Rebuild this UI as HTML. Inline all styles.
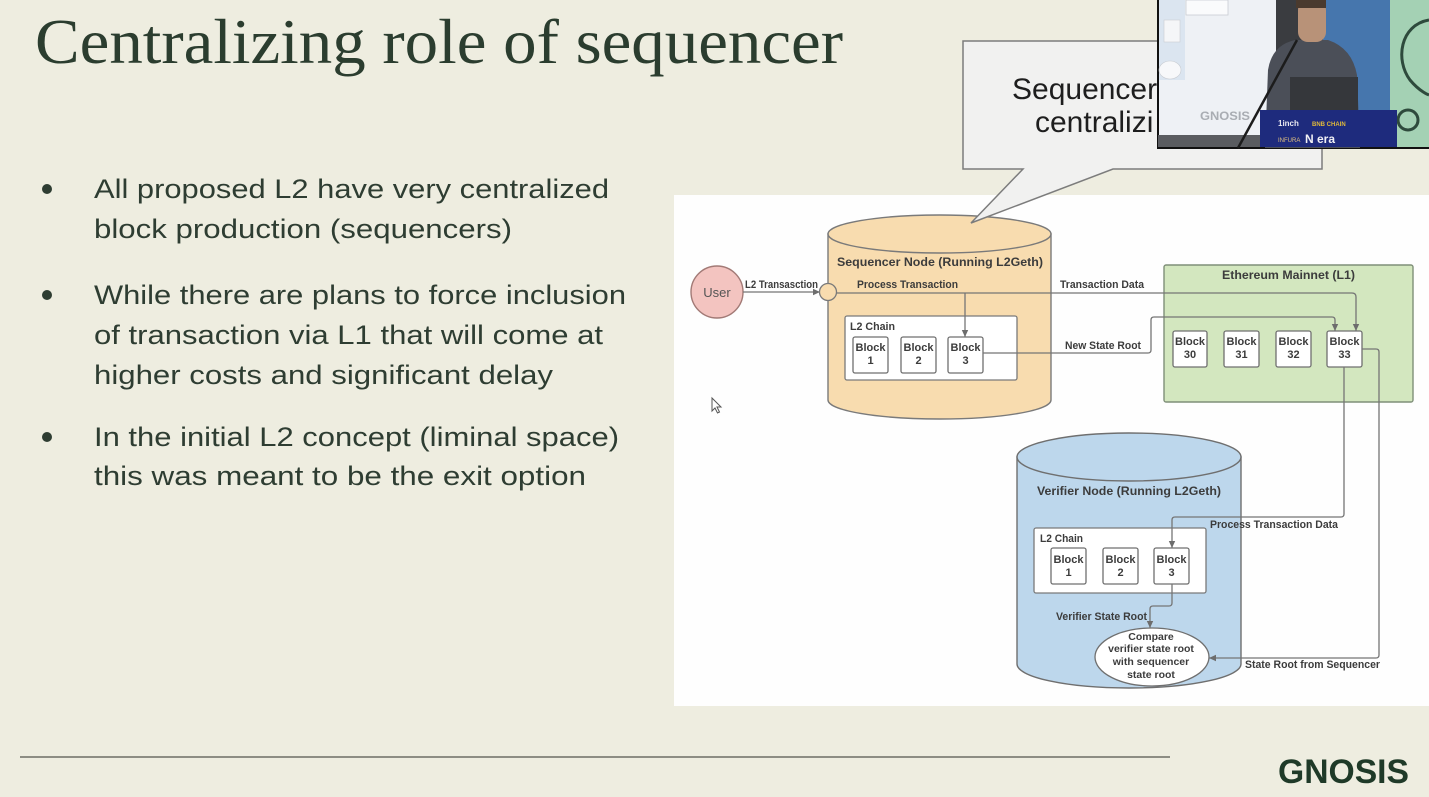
<!DOCTYPE html>
<html><head><meta charset="utf-8"><style>
html,body{margin:0;padding:0;background:#eeede0;}
svg{display:block;}
</style></head><body>
<svg width="1429" height="797" viewBox="0 0 1429 797" xmlns="http://www.w3.org/2000/svg">
<defs>
<marker id="ah" markerWidth="8" markerHeight="8" refX="7" refY="4" orient="auto" markerUnits="userSpaceOnUse">
<path d="M0,0.8 L7,4 L0,7.2 Z" fill="#6d6d6d"/>
</marker>
</defs>
<rect x="0" y="0" width="1429" height="797" fill="#eeede0"/>

<!-- Title -->
<text x="35" y="63" font-family="Liberation Serif, serif" font-size="63" fill="#2b3d2f" textLength="808" lengthAdjust="spacingAndGlyphs">Centralizing role of sequencer</text>

<!-- Bullets -->
<g font-family="Liberation Sans, sans-serif" font-size="27" fill="#2e3d32">
<circle cx="47" cy="189" r="5" fill="#2e3d32"/>
<circle cx="47" cy="295" r="5" fill="#2e3d32"/>
<circle cx="47" cy="437" r="5" fill="#2e3d32"/>
<text x="94" y="198" textLength="515" lengthAdjust="spacingAndGlyphs">All proposed L2 have very centralized</text>
<text x="94" y="238" textLength="418" lengthAdjust="spacingAndGlyphs">block production (sequencers)</text>
<text x="94" y="304" textLength="532" lengthAdjust="spacingAndGlyphs">While there are plans to force inclusion</text>
<text x="94" y="344" textLength="509" lengthAdjust="spacingAndGlyphs">of transaction via L1 that will come at</text>
<text x="94" y="384" textLength="459" lengthAdjust="spacingAndGlyphs">higher costs and significant delay</text>
<text x="94" y="446" textLength="525" lengthAdjust="spacingAndGlyphs">In the initial L2 concept (liminal space)</text>
<text x="94" y="485" textLength="492" lengthAdjust="spacingAndGlyphs">this was meant to be the exit option</text>
</g>

<!-- Diagram panel -->
<rect x="674" y="195" width="755" height="511" fill="#fefefe"/>

<!-- Sequencer cylinder -->
<path d="M828,234 L828,400 A111.5,19 0 0 0 1051,400 L1051,234 Z" fill="#f8dcaf" stroke="#7a7a7a" stroke-width="1.4"/>
<ellipse cx="939.5" cy="234" rx="111.5" ry="19" fill="#f8dcaf" stroke="#7a7a7a" stroke-width="1.4"/>

<!-- Ethereum mainnet -->
<rect x="1164" y="265" width="249" height="137" rx="2" fill="#d3e7bf" stroke="#7f8f78" stroke-width="1.4"/>

<!-- Verifier cylinder -->
<path d="M1017,457 L1017,664 A112,24 0 0 0 1241,664 L1241,457 Z" fill="#bdd7ec" stroke="#6f6f6f" stroke-width="1.4"/>
<ellipse cx="1129" cy="457" rx="112" ry="24" fill="#bdd7ec" stroke="#6f6f6f" stroke-width="1.4"/>

<!-- User -->
<circle cx="717" cy="292" r="26" fill="#f3c4c0" stroke="#a27a76" stroke-width="1.4"/>
<text x="717" y="297" text-anchor="middle" font-family="Liberation Sans, sans-serif" font-size="13" fill="#555">User</text>

<!-- L2 chain boxes -->
<rect x="845" y="316" width="172" height="64" rx="2" fill="#fff" stroke="#7a7a7a" stroke-width="1.3"/>
<rect x="1034" y="528" width="172" height="65" rx="2" fill="#fff" stroke="#7a7a7a" stroke-width="1.3"/>

<g fill="#fff" stroke="#6f6f6f" stroke-width="1.3">
<rect x="853" y="337" width="35" height="36" rx="2"/>
<rect x="901" y="337" width="35" height="36" rx="2"/>
<rect x="948" y="337" width="35" height="36" rx="2"/>
<rect x="1173" y="331" width="34" height="36" rx="2"/>
<rect x="1224" y="331" width="35" height="36" rx="2"/>
<rect x="1276" y="331" width="35" height="36" rx="2"/>
<rect x="1327" y="331" width="35" height="36" rx="2"/>
<rect x="1051" y="548" width="35" height="36" rx="2"/>
<rect x="1103" y="548" width="35" height="36" rx="2"/>
<rect x="1154" y="548" width="35" height="36" rx="2"/>
</g>

<!-- Compare ellipse -->
<ellipse cx="1152" cy="657" rx="57" ry="29" fill="#fff" stroke="#6f6f6f" stroke-width="1.3"/>

<!-- Connectors -->
<g fill="none" stroke="#757575" stroke-width="1.3">
<path d="M743,292 L820,292" marker-end="url(#ah)"/>
<path d="M836,293 L1352,293 Q1356,293 1356,297 L1356,331" marker-end="url(#ah)"/>
<path d="M965,293 L965,337" marker-end="url(#ah)"/>
<path d="M983,353 L1148,353 Q1151,353 1151,350 L1151,320 Q1151,317 1154,317 L1332,317 Q1335,317 1335,320 L1335,331" marker-end="url(#ah)"/>
<path d="M1344,367 L1344,514 Q1344,517 1341,517 L1175,517 Q1172,517 1172,520 L1172,548" marker-end="url(#ah)"/>
<path d="M1362,349 L1376,349 Q1379,349 1379,352 L1379,655 Q1379,658 1376,658 L1209,658" marker-end="url(#ah)"/>
<path d="M1172,584 L1172,603 Q1172,606 1169,606 L1153,606 Q1150,606 1150,609 L1150,628" marker-end="url(#ah)"/>
</g>
<circle cx="828" cy="292" r="8.5" fill="#f8dcaf" stroke="#7a7a7a" stroke-width="1.3"/>

<!-- Diagram labels -->
<g font-family="Liberation Sans, sans-serif" font-weight="bold" font-size="11" fill="#3c3c3c">
<text x="745" y="288" textLength="73" lengthAdjust="spacingAndGlyphs">L2 Transasction</text>
<text x="837" y="266" font-size="12" textLength="206" lengthAdjust="spacingAndGlyphs">Sequencer Node (Running L2Geth)</text>
<text x="857" y="288" textLength="101" lengthAdjust="spacingAndGlyphs">Process Transaction</text>
<text x="1060" y="288" textLength="84" lengthAdjust="spacingAndGlyphs">Transaction Data</text>
<text x="1065" y="349" textLength="76" lengthAdjust="spacingAndGlyphs">New State Root</text>
<text x="1222" y="279" font-size="12" textLength="133" lengthAdjust="spacingAndGlyphs">Ethereum Mainnet (L1)</text>
<text x="850" y="330" textLength="45" lengthAdjust="spacingAndGlyphs">L2 Chain</text>
<text x="1037" y="495" font-size="12" textLength="184" lengthAdjust="spacingAndGlyphs">Verifier Node (Running L2Geth)</text>
<text x="1210" y="528" textLength="128" lengthAdjust="spacingAndGlyphs">Process Transaction Data</text>
<text x="1040" y="542" textLength="43" lengthAdjust="spacingAndGlyphs">L2 Chain</text>
<text x="1056" y="620" textLength="91" lengthAdjust="spacingAndGlyphs">Verifier State Root</text>
<text x="1245" y="668" textLength="135" lengthAdjust="spacingAndGlyphs">State Root from Sequencer</text>
<g text-anchor="middle">
<text x="870.5" y="351">Block</text><text x="870.5" y="364">1</text>
<text x="918.5" y="351">Block</text><text x="918.5" y="364">2</text>
<text x="965.5" y="351">Block</text><text x="965.5" y="364">3</text>
<text x="1190" y="345">Block</text><text x="1190" y="358">30</text>
<text x="1241.5" y="345">Block</text><text x="1241.5" y="358">31</text>
<text x="1293.5" y="345">Block</text><text x="1293.5" y="358">32</text>
<text x="1344.5" y="345">Block</text><text x="1344.5" y="358">33</text>
<text x="1068.5" y="563">Block</text><text x="1068.5" y="576">1</text>
<text x="1120.5" y="563">Block</text><text x="1120.5" y="576">2</text>
<text x="1171.5" y="563">Block</text><text x="1171.5" y="576">3</text>
<text x="1151" y="640" font-size="10.5">Compare</text>
<text x="1151" y="652" font-size="10.5">verifier state root</text>
<text x="1151" y="665" font-size="10.5">with sequencer</text>
<text x="1151" y="678" font-size="10.5">state root</text>
</g>
</g>

<!-- Mouse cursor -->
<path d="M712,398 L712,411 L715,408 L717.5,413 L719.5,412 L717,407 L721,407 Z" fill="#fff" stroke="#555" stroke-width="1"/>

<!-- Callout bubble (drawn over the diagram) -->
<path d="M963,41 L1322,41 L1322,169 L1113,169 L971,223 L1023,169 L963,169 Z" fill="#f1f1f0" stroke="#7c7c7c" stroke-width="1.5"/>
<text x="1012" y="99" font-family="Liberation Sans, sans-serif" font-size="30" fill="#1e1e1e">Sequencer</text>
<text x="1035" y="132" font-family="Liberation Sans, sans-serif" font-size="30" fill="#1e1e1e">centralizi</text>

<!-- Bottom rule -->
<line x1="20" y1="757" x2="1170" y2="757" stroke="#8d8d84" stroke-width="2"/>

<!-- Gnosis logo -->
<text x="1278" y="783" font-family="Liberation Sans, sans-serif" font-weight="bold" font-size="34" fill="#1f3a28" textLength="131" lengthAdjust="spacingAndGlyphs">GNOSIS</text>

<!-- Video overlay -->
<g>
<rect x="1157" y="0" width="272" height="149" fill="#111"/>
<rect x="1159" y="0" width="270" height="147" fill="#3a3c40"/>
<rect x="1159" y="0" width="117" height="135" fill="#eef1f5"/>
<rect x="1159" y="0" width="26" height="80" fill="#dbe5f0"/>
<rect x="1186" y="0" width="42" height="15" fill="#fafbfc" stroke="#c8ccd2" stroke-width="0.8"/>
<rect x="1164" y="20" width="16" height="22" fill="#f5f6f8" stroke="#c8ccd2" stroke-width="0.6"/>
<ellipse cx="1170" cy="70" rx="11" ry="9" fill="#f7f8fa" stroke="#c8ccd2" stroke-width="0.6"/>
<rect x="1158" y="135" width="118" height="12" fill="#5a5c60"/>
<text x="1200" y="120" font-family="Liberation Sans, sans-serif" font-weight="bold" font-size="12" fill="#a9adb3" textLength="50" lengthAdjust="spacingAndGlyphs">GNOSIS</text>
<rect x="1323" y="0" width="67" height="112" fill="#4676ad"/>
<rect x="1390" y="0" width="39" height="147" fill="#a4d1b4"/>
<path d="M1429,20 C1400,25 1395,60 1410,80 C1420,92 1429,95 1429,95" fill="none" stroke="#2e4a3c" stroke-width="3"/>
<circle cx="1408" cy="120" r="10" fill="none" stroke="#2e4a3c" stroke-width="3"/>
<path d="M1265,148 L1268,70 Q1272,45 1295,40 L1328,40 Q1352,48 1357,75 L1360,148 Z" fill="#4b4f58"/>
<rect x="1298" y="0" width="28" height="42" rx="10" fill="#b89278"/>
<rect x="1296" y="0" width="30" height="8" fill="#4a3a2e"/>
<rect x="1290" y="77" width="68" height="34" fill="#35373b"/>
<line x1="1238" y1="148" x2="1297" y2="40" stroke="#1c1c1c" stroke-width="2.5"/>
<rect x="1260" y="110" width="137" height="37" fill="#1e2b7d"/>
<text x="1278" y="126" font-family="Liberation Sans, sans-serif" font-weight="bold" font-size="8" fill="#e8e8f0">1inch</text>
<text x="1312" y="126" font-family="Liberation Sans, sans-serif" font-weight="bold" font-size="6" fill="#e0b93a">BNB CHAIN</text>
<text x="1278" y="142" font-family="Liberation Sans, sans-serif" font-size="6" fill="#e0c080">INFURA</text>
<text x="1305" y="143" font-family="Liberation Sans, sans-serif" font-weight="bold" font-size="12" fill="#f0f0f5">N era</text>
</g>
</svg>
</body></html>
